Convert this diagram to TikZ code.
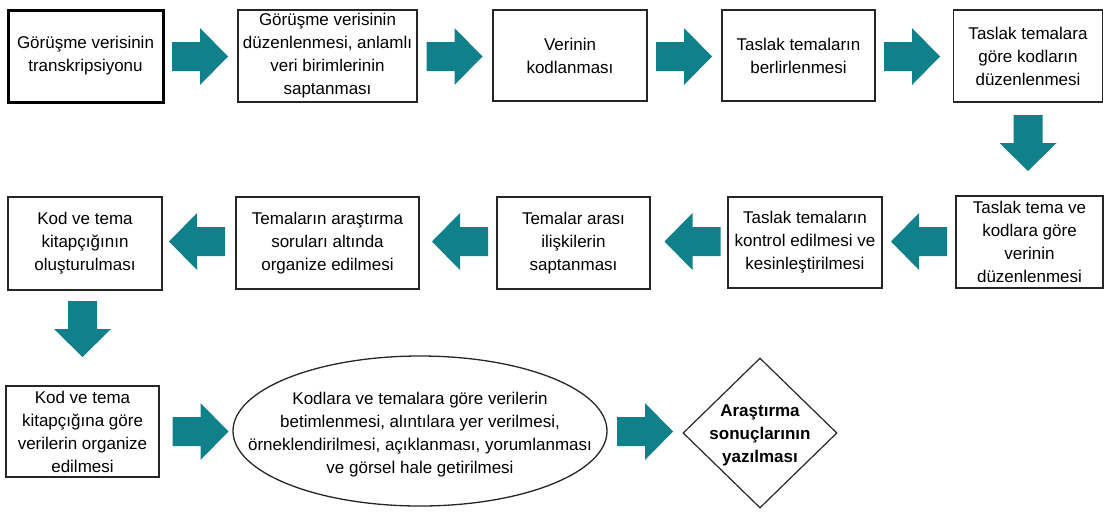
\documentclass[tikz,border=0pt]{standalone}
\usepackage{fontspec}
\setmainfont{Liberation Sans}
\usetikzlibrary{shapes.geometric}
\definecolor{arrteal}{HTML}{10808A}
\begin{document}
\begin{tikzpicture}[x=1pt,y=-1pt,
  font=\fontsize{17}{23}\selectfont,
  box/.style={draw=black!85, line width=1.2pt, align=center, inner sep=0pt},
  thickbox/.style={box, draw=black, line width=3pt},
  txt/.style={align=center, inner sep=0pt},
  rarr/.pic={\fill[arrteal] (-28,-14.5) -- (0,-14.5) -- (0,-28.5) -- (28,0) -- (0,28.5) -- (0,14.5) -- (-28,14.5) -- cycle;}
]
\useasboundingbox (0,0) rectangle (1105,512);
% row 1
\node[thickbox, minimum width=155pt, minimum height=92pt] (b1) at (85.5,56) {Görüşme verisinin\\transkripsiyonu};
\node[box, minimum width=179pt, minimum height=92pt] (b2) at (327.5,56) {Görüşme verisinin\\düzenlenmesi, anlamlı\\veri birimlerinin\\saptanması};
\node[box, minimum width=154pt, minimum height=91pt] (b3) at (570,55.5) {Verinin\\kodlanması};
\node[box, minimum width=153pt, minimum height=91pt] (b4) at (798.5,55.5) {Taslak temaların\\berlirlenmesi};
\node[box, minimum width=149pt, minimum height=92pt] (b5) at (1028,56) {Taslak temalara\\göre kodların\\düzenlenmesi};
% row 2
\node[box, minimum width=147pt, minimum height=92pt] (c1) at (1029.5,242) {Taslak tema ve\\kodlara göre\\verinin\\düzenlenmesi};
\node[box, minimum width=154pt, minimum height=91pt] (c2) at (805,242.5) {Taslak temaların\\kontrol edilmesi ve\\kesinleştirilmesi};
\node[box, minimum width=153pt, minimum height=92pt] (c3) at (573.5,243) {Temalar arası\\ilişkilerin\\saptanması};
\node[box, minimum width=183pt, minimum height=92pt] (c4) at (327.5,243) {Temaların araştırma\\soruları altında\\organize edilmesi};
\node[box, minimum width=154pt, minimum height=93pt] (c5) at (85,243.5) {Kod ve tema\\kitapçığının\\oluşturulması};
% row 3
\node[box, minimum width=153pt, minimum height=91pt] (d1) at (82.5,431.5) {Kod ve tema\\kitapçığına göre\\verilerin organize\\edilmesi};
\node[ellipse, draw=black!85, line width=1.3pt, minimum width=374pt, minimum height=150pt, inner sep=0pt] (el) at (420,431) {};
\node[txt] (eltext) at (420,435) {Kodlara ve temalara göre verilerin\\betimlenmesi, alıntılara yer verilmesi,\\örneklendirilmesi, açıklanması, yorumlanması\\ve görsel hale getirilmesi};
\node[diamond, draw=black!85, line width=1.2pt, minimum width=154pt, minimum height=150pt, inner sep=0pt] (dm) at (760,433) {};
\node[txt, font=\fontsize{17}{23}\selectfont\bfseries] (dmtext) at (760,435) {Araştırma\\sonuçlarının\\yazılması};
% arrows row 1
\pic at (200,56.5) {rarr};
\pic at (454.5,56.5) {rarr};
\pic at (684,56.5) {rarr};
\pic at (912,56.5) {rarr};
% down arrow
\pic[rotate=-90] at (1028,143) {rarr};
% arrows row 2
\pic[rotate=180] at (197,241.5) {rarr};
\pic[rotate=180] at (460,241.5) {rarr};
\pic[rotate=180] at (692.5,241.5) {rarr};
\pic[rotate=180] at (919,241.5) {rarr};
% down arrow 2
\pic[rotate=-90] at (82.5,329) {rarr};
% arrows row 3
\pic at (200.5,431.5) {rarr};
\pic at (645,431.5) {rarr};
\end{tikzpicture}
\end{document}
